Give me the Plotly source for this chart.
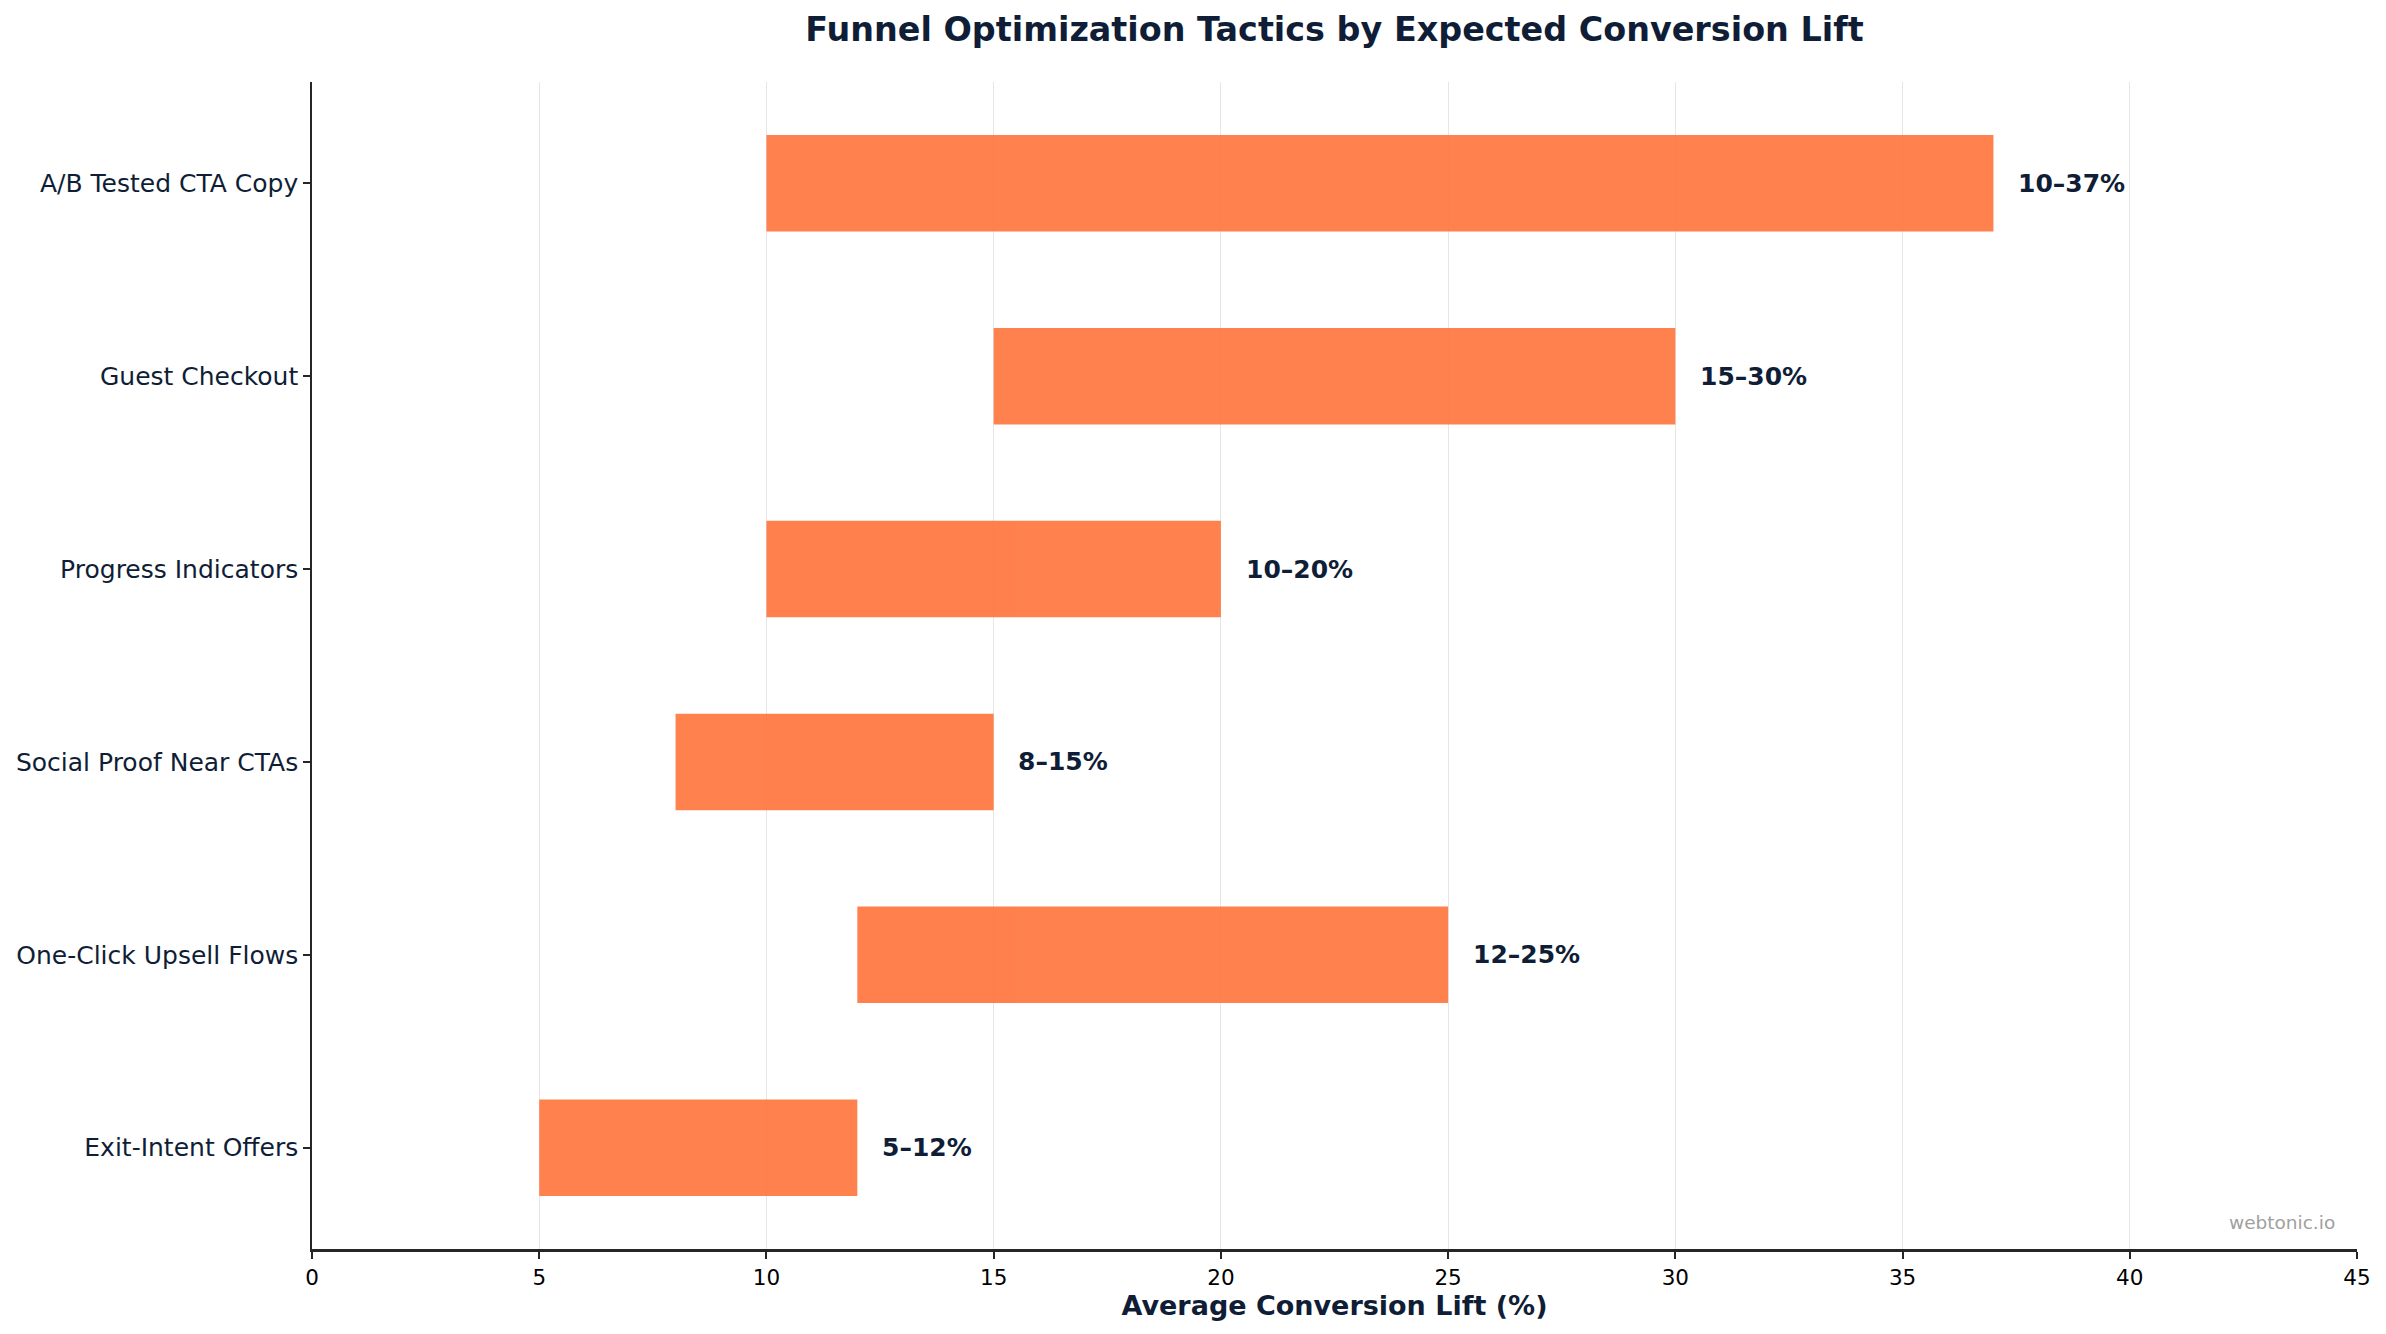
import plotly.graph_objects as go

tactics = ["Exit-Intent Offers", "One-Click Upsell Flows", "Social Proof Near CTAs",
           "Progress Indicators", "Guest Checkout", "A/B Tested CTA Copy"]
low = [5, 12, 8, 10, 15, 10]
high = [12, 25, 15, 20, 30, 37]
x_ticks = [0, 5, 10, 15, 20, 25, 30, 35, 40, 45]

NAVY = "#0F1E36"
FONT = "DejaVu Sans"

fig = go.Figure()
fig.add_trace(go.Bar(
    y=tactics,
    x=[h - l for l, h in zip(low, high)],
    base=low,
    orientation="h",
    width=0.5,
    marker=dict(color="rgb(255,115,58)", line=dict(width=0)),
    opacity=0.9,
    hoverinfo="skip",
))

for t, l, h in zip(tactics, low, high):
    fig.add_annotation(
        x=h + 0.5, y=t, xref="x", yref="y",
        text=f"<b>{l}\u2013{h}%</b>",
        showarrow=False, xanchor="left", yanchor="middle",
        font=dict(family=FONT, size=25, color=NAVY),
    )

fig.add_annotation(
    x=0.99, y=0.012, xref="paper", yref="paper",
    text="webtonic.io", showarrow=False, xanchor="right", yanchor="bottom",
    font=dict(family=FONT, size=18.5, color="#A0A0A0"),
)

fig.update_layout(
    width=2386, height=1334,
    margin=dict(l=312, r=29, t=82, b=85),
    paper_bgcolor="white", plot_bgcolor="white",
    showlegend=False,
    font=dict(family=FONT, color=NAVY),
    title=dict(
        text="<b>Funnel Optimization Tactics by Expected Conversion Lift</b>",
        x=0.5, xref="paper", xanchor="center",
        y=1 - 29 / 1334, yref="container", yanchor="middle",
        font=dict(family=FONT, size=33.4, color=NAVY),
    ),
    bargap=0.5,
)

fig.update_xaxes(
    range=[0, 45], tickvals=x_ticks, ticktext=[str(v) for v in x_ticks],
    showgrid=True, gridcolor="#E6E6E6", gridwidth=1,
    zeroline=False,
    showline=True, linecolor="#262626", linewidth=2.5,
    ticks="outside", ticklen=7, tickwidth=1.5, tickcolor="#262626",
    tickfont=dict(family=FONT, size=21.5, color="#000000"),
    title=dict(text="<b>Average Conversion Lift (%)</b>",
               font=dict(family=FONT, size=27, color=NAVY), standoff=8),
)
fig.update_yaxes(
    range=[-0.525, 5.525],
    categoryorder="array", categoryarray=tactics,
    showgrid=False, zeroline=False,
    showline=True, linecolor="#262626", linewidth=1.5,
    ticks="outside", ticklen=7, tickwidth=1.5, tickcolor="#262626",
    tickfont=dict(family=FONT, size=25, color=NAVY),
)

fig.write_html("out.html")
